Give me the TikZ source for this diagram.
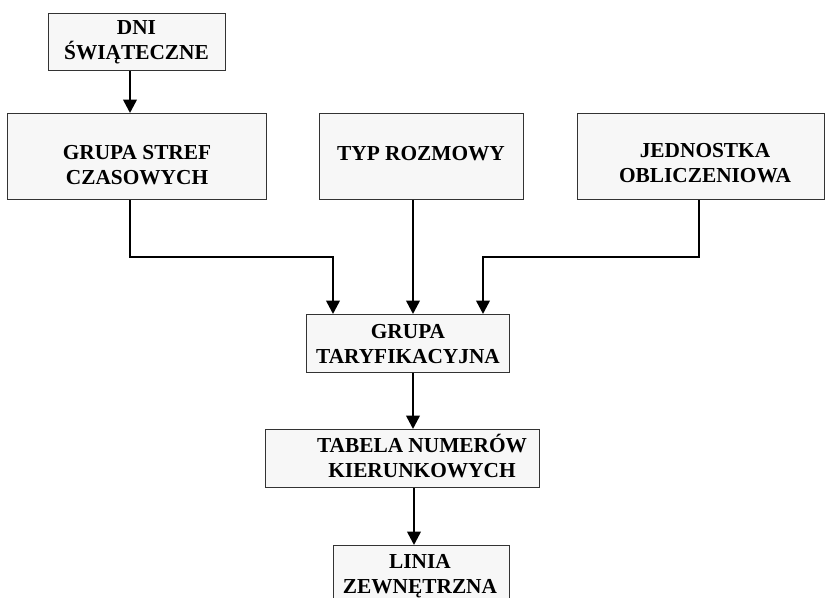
\documentclass[tikz,border=0pt]{standalone}
\usepackage{fontspec}
\setmainfont{Liberation Serif}
\usetikzlibrary{arrows.meta}
\tikzset{
  box/.style={draw=black!80, line width=1pt, fill=black!3, rectangle, inner sep=0pt, anchor=north west},
  lbl/.style={font=\fontsize{16}{18.75}\selectfont\bfseries, align=center, anchor=base, inner sep=0pt},
  arr/.style={line width=1.9pt, -{Triangle[width=10pt,length=10pt]}}
}
\begin{document}
\begin{tikzpicture}[x=0.75pt,y=-0.75pt]
\useasboundingbox (0,0) rectangle (827,598);
% boxes (pixel coordinates, sizes in pt = px*0.75)
\node[box, minimum width=132.75pt, minimum height=42.75pt] (dni) at (48,13) {};
\node[box, minimum width=194.25pt, minimum height=64.5pt] (gs) at (7,113) {};
\node[box, minimum width=153pt, minimum height=64.5pt] (typ) at (319,113) {};
\node[box, minimum width=185.25pt, minimum height=64.5pt] (jed) at (577,113) {};
\node[box, minimum width=152.25pt, minimum height=43.5pt] (gt) at (306,314) {};
\node[box, minimum width=205.5pt, minimum height=43.5pt] (tab) at (265,429) {};
\node[box, minimum width=132pt, minimum height=56pt] (lin) at (333,545) {};
% labels (anchor base = baseline of last line)
\node[lbl] (tdni) at (136.5,60) {DNI\\ŚWIĄTECZNE};
\node[lbl] (tgs) at (137,185) {GRUPA STREF\\CZASOWYCH};
\node[lbl] (ttyp) at (421,161) {TYP ROZMOWY};
\node[lbl] (tjed) at (705,183) {JEDNOSTKA\\OBLICZENIOWA};
\node[lbl] (tgt) at (408,363) {GRUPA\\TARYFIKACYJNA};
\node[lbl] (ttab) at (422,477) {TABELA NUMERÓW\\KIERUNKOWYCH};
\node[lbl] (tlin) at (420,593) {LINIA\\ZEWNĘTRZNA};
% connectors
\draw[arr] (130,0 |- dni.south) -- (130,0 |- gs.north);
\draw[arr] (130,0 |- gs.south) -- (130,257) -- (333,257) -- (333,0 |- gt.north);
\draw[arr] (413,0 |- typ.south) -- (413,0 |- gt.north);
\draw[arr] (699,0 |- jed.south) -- (699,257) -- (483,257) -- (483,0 |- gt.north);
\draw[arr] (413,0 |- gt.south) -- (413,0 |- tab.north);
\draw[arr] (414,0 |- tab.south) -- (414,0 |- lin.north);
\end{tikzpicture}
\end{document}
